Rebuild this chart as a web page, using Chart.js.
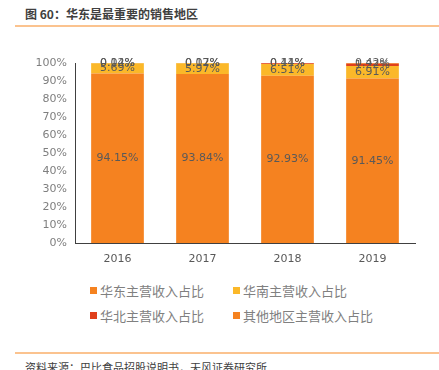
<!DOCTYPE html>
<html>
<head>
<meta charset="utf-8">
<script src="https://cdn.jsdelivr.net/npm/chart.js@4/dist/chart.umd.min.js"></script>
<style>
  body { margin: 0; background: #fff; font-family: "Noto Sans CJK SC", sans-serif; }
  #wrap { position: relative; width: 439px; height: 370px; overflow: hidden; }
  #title { position: absolute; left: 25px; top: 5px; font-size: 12px; font-weight: bold; color: #404040; }
  .rule { position: absolute; left: 15px; width: 424px; height: 2px; background: #fbc38f; }
  #box { position: absolute; left: 0; top: 40px; width: 430px; height: 235px; }
  .leg { position: absolute; font-size: 13px; color: #808080; white-space: nowrap; }
  .leg i { display: inline-block; width: 7px; height: 7px; margin-right: 3px; vertical-align: 2px; }
  #src { position: absolute; left: 25px; top: 359px; font-size: 11px; color: #404040; }
</style>
</head>
<body>
<div id="wrap">
  <div id="title">图 60：华东是最重要的销售地区</div>
  <div class="rule" style="top:25px"></div>
  <div id="box"><canvas id="c"></canvas></div>
  <div id="legend"></div>
  <div class="rule" style="top:352px"></div>
  <div id="src">资料来源：巴比食品招股说明书，天风证券研究所</div>
</div>
<script>
const years = ['2016', '2017', '2018', '2019'];
const east = [94.15, 93.84, 92.93, 91.45];
const south = [5.69, 5.97, 6.51, 6.91];
const north = [0.02, 0.07, 0.44, 1.22];
const other = [0.14, 0.12, 0.11, 0.42];
const yTicks = [0, 10, 20, 30, 40, 50, 60, 70, 80, 90, 100];

const names = ['华东主营收入占比', '华南主营收入占比', '华北主营收入占比', '其他地区主营收入占比'];
const colors = ['#f58220', '#fbb829', '#e0401c', '#f58220'];
const series = [east, south, north, other];

// legend in two columns
const legPos = [[90, 281], [233, 281], [90, 306], [233, 306]];
const legend = document.getElementById('legend');
names.forEach((n, i) => {
  const d = document.createElement('div');
  d.className = 'leg';
  d.style.left = legPos[i][0] + 'px';
  d.style.top = legPos[i][1] + 'px';
  d.innerHTML = '<i style="background:' + colors[i] + '"></i>' + n;
  legend.appendChild(d);
});

// value labels at the middle of each segment
const barLabels = {
  id: 'barLabels',
  afterDatasetsDraw(chart) {
    const ctx = chart.ctx;
    ctx.save();
    ctx.font = '11px "DejaVu Sans", sans-serif';
    ctx.fillStyle = '#595959';
    ctx.textAlign = 'center';
    ctx.textBaseline = 'middle';
    chart.data.datasets.forEach((ds, i) => {
      chart.getDatasetMeta(i).data.forEach((bar, j) => {
        const y = (bar.y + bar.base) / 2;
        ctx.fillText(ds.data[j].toFixed(2) + '%', bar.x, y);
      });
    });
    ctx.restore();
  }
};

new Chart(document.getElementById('c'), {
  type: 'bar',
  data: {
    labels: years,
    datasets: series.map((s, i) => ({
      label: names[i],
      data: s,
      backgroundColor: colors[i],
      borderWidth: 0,
      categoryPercentage: 1,
      barPercentage: 0.62
    }))
  },
  options: {
    responsive: true,
    maintainAspectRatio: false,
    animation: false,
    layout: { padding: { top: 23, right: 15, left: 0, bottom: 0 } },
    plugins: { legend: { display: false }, tooltip: { enabled: false } },
    scales: {
      x: {
        stacked: true,
        grid: { display: false, drawTicks: false },
        border: { color: '#404040', width: 1 },
        ticks: { color: '#595959', font: { size: 11, family: '"DejaVu Sans", sans-serif' }, padding: 10 },
        afterFit(s) { s.height = 32; }
      },
      y: {
        stacked: true,
        min: 0,
        max: 100,
        afterBuildTicks(s) { s.ticks = yTicks.map(v => ({ value: v })); },
        grid: { display: false, drawOnChartArea: false, drawTicks: true, tickLength: 4, tickColor: '#404040' },
        border: { color: '#404040', width: 1 },
        ticks: { color: '#7f7f7f', font: { size: 11, family: '"DejaVu Sans", sans-serif' }, padding: 4,
                 callback: v => v + '%' },
        afterFit(s) { s.width = 75; }
      }
    }
  },
  plugins: [barLabels]
});
</script>
</body>
</html>
